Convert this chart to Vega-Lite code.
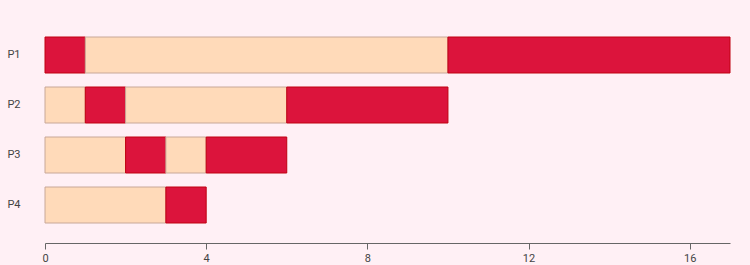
{
  "$schema": "https://vega.github.io/schema/vega-lite/v6.json",
  "width": 685,
  "height": 226,
  "autosize": "none",
  "padding": {"left": 45, "top": 17, "right": 20, "bottom": 22},
  "background": "#fff0f5",
  "config": {"view": {"stroke": null}, "font": "Roboto"},
  "data": {
    "values": [
      {"p": "P1", "start": 0, "end": 1, "state": "run"},
      {"p": "P1", "start": 1, "end": 10, "state": "wait"},
      {"p": "P1", "start": 10, "end": 17, "state": "run"},
      {"p": "P2", "start": 0, "end": 1, "state": "wait"},
      {"p": "P2", "start": 1, "end": 2, "state": "run"},
      {"p": "P2", "start": 2, "end": 6, "state": "wait"},
      {"p": "P2", "start": 6, "end": 10, "state": "run"},
      {"p": "P3", "start": 0, "end": 2, "state": "wait"},
      {"p": "P3", "start": 2, "end": 3, "state": "run"},
      {"p": "P3", "start": 3, "end": 4, "state": "wait"},
      {"p": "P3", "start": 4, "end": 6, "state": "run"},
      {"p": "P4", "start": 0, "end": 3, "state": "wait"},
      {"p": "P4", "start": 3, "end": 4, "state": "run"}
    ]
  },
  "mark": {"type": "bar", "strokeWidth": 1, "cornerRadius": 0},
  "encoding": {
    "y": {
      "field": "p", "type": "nominal", "title": null,
      "scale": {"paddingInner": 0.28, "paddingOuter": 0.4},
      "axis": {"domain": false, "ticks": false, "labelPadding": 25, "labelFontSize": 11, "labelColor": "#444"}
    },
    "x": {
      "field": "start", "type": "quantitative", "title": null,
      "scale": {"domain": [0, 17], "nice": false},
      "axis": {"values": [0, 4, 8, 12, 16], "grid": false, "labelFlush": false, "labelDx": -3, "domainColor": "#666", "tickColor": "#666", "tickSize": 6, "labelFontSize": 11, "labelColor": "#444", "labelPadding": 3}
    },
    "x2": {"field": "end"},
    "color": {
      "field": "state", "type": "nominal", "legend": null,
      "scale": {"domain": ["run", "wait"], "range": ["#dc143c", "#ffdab9"]}
    },
    "stroke": {
      "field": "state", "type": "nominal", "legend": null,
      "scale": {"domain": ["run", "wait"], "range": ["#c00010", "#c8a898"]}
    }
  }
}
